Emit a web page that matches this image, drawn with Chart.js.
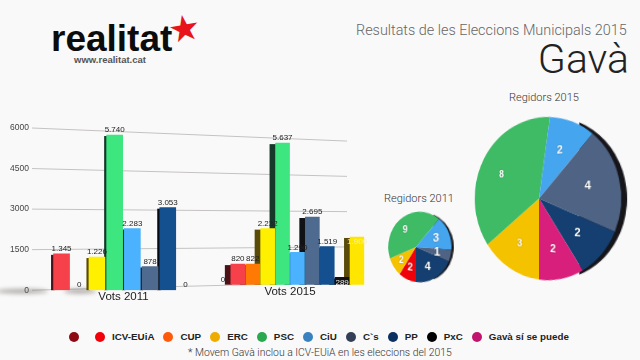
<!DOCTYPE html>
<html>
<head>
<meta charset="utf-8">
<style>
  html, body { margin: 0; padding: 0; background: #faf9f9; }
  #page { position: relative; width: 640px; height: 360px; overflow: hidden; font-family: "Liberation Sans", sans-serif; color: #222; }
  #page div, #page canvas { position: absolute; }
  .logo { left: 51px; top: 18px; font-size: 37px; font-weight: bold; color: #0c0c0c; }
  .star { left: 168px; top: 8px; font: 36px "DejaVu Sans"; color: #e8141c; transform: rotate(-10deg); }
  .web { left: 74px; top: 54px; font-size: 9.5px; font-weight: bold; color: #555; }
  .title { left: 356px; top: 22px; font: 300 14.4px Roboto; color: #666; white-space: nowrap; }
  .place { right: 11px; top: 35px; font: 300 41px Roboto; color: #222; }
  .pieTitle { font: 300 11px Roboto; color: #333; white-space: nowrap; }
  .note { left: 188px; top: 346px; font: 300 10.4px Roboto; color: #333; white-space: nowrap; }
  #legend { left: 69px; top: 331px; display: flex; align-items: center; font-size: 9.8px; font-weight: bold; color: #222; white-space: nowrap; }
  #legend span { display: inline-block; }
  #legend .dot { width: 10px; height: 10px; border-radius: 50%; margin-right: 7px; }
  #legend .txt { margin-right: 9px; }
  .pieBox { transform-origin: 50% 50%; }
</style>
</head>
<body>
<div id="page">
  <div class="logo">realitat</div>
  <div class="star">★</div>
  <div class="web">www.realitat.cat</div>
  <div class="title">Resultats de les Eleccions Municipals 2015</div>
  <div class="place">Gavà</div>

  <canvas id="vots2011" style="left:0;top:100px"></canvas>
  <canvas id="vots2015" style="left:190px;top:100px"></canvas>

  <div class="pieTitle" style="left:384px;top:192px">Regidors 2011</div>
  <div class="pieTitle" style="left:509px;top:91px">Regidors 2015</div>
  <div class="pieBox" style="left:371px;top:202px;width:90px;height:90px;transform:perspective(130px) rotateY(-27deg)"><canvas id="reg2011"></canvas></div>
  <div class="pieBox" style="left:444px;top:106px;width:190px;height:185px;transform:perspective(300px) rotateY(-27deg)"><canvas id="reg2015"></canvas></div>

  <div id="legend"></div>
  <div class="note">* Movem Gavà inclou a ICV-EUiA en les eleccions del 2015</div>
</div>

<script src="https://cdn.jsdelivr.net/npm/chart.js@4"></script>
<script>
const parties = ['', 'ICV-EUiA', 'CUP', 'ERC', 'PSC', 'CiU', 'C`s', 'PP', 'PxC', 'Gavà sí se puede']
const legendColors = ['#8b0a14', '#f00008', '#ff5a0a', '#eeac00', '#2aa84f', '#3a82bf', '#333f55', '#0b2f5e', '#000000', '#c0146f']
const barColors = ['#8b0a14', '#f6404a', '#ff7a05', '#fff000', '#3de67f', '#4ab2ff', '#4f6a8f', '#14508f', '#111111', '#ffe600']
const sideColors = ['#220406', '#4a1216', '#40200a', '#5a4a08', '#16382a', '#123048', '#111216', '#050a12', '#000000', '#5a4a08']
const pieColors = ['#8b0a14', '#f00008', '#ff5a0a', '#f5c200', '#3fbb66', '#46a5ef', '#4f6384', '#143f70', '#000000', '#d81f7c']

const vots2011 = [null, 1345, 0, 1226, 5740, 2283, 878, 3053, 0, null]
const vots2015 = [0, 820, 822, 2232, 5637, 1290, 2695, 1519, 289, 1900]
const regidors2011 = [0, 2, 0, 2, 9, 3, 1, 4, 0, 0]
const regidors2015 = [0, 0, 0, 3, 8, 2, 4, 2, 0, 2]
// order the slices run clockwise from the bottom of each pie
const order2011 = [1, 3, 4, 5, 6, 7]
const order2015 = [3, 4, 5, 6, 7, 9]
const yTicks = [0, 1500, 3000, 4500, 6000]

const insideLabels = ['PxC', 'Gavà sí se puede']

// legend
const legend = document.getElementById('legend')
parties.forEach((name, i) => {
  legend.insertAdjacentHTML('beforeend',
    '<span class="dot" style="background:' + legendColors[i] + '"></span><span class="txt">' + name + '</span>')
})

function fmt(v) {
  return String(v).replace(/\B(?=(\d{3})+$)/g, '.')
}

// sloped grid lines, they fan in towards the right like in the 3D picture
const gridPlugin = {
  id: 'slopedGrid',
  beforeDatasetsDraw(chart) {
    const ctx = chart.ctx
    const y = chart.scales.y
    const base = y.getPixelForValue(0)
    ctx.save()
    ctx.strokeStyle = '#c4c2c2'
    ctx.lineWidth = 1
    yTicks.forEach(v => {
      const y0 = y.getPixelForValue(v)
      ctx.beginPath()
      ctx.moveTo(32, y0)
      ctx.lineTo(347, base - 8 + (y0 - base) * 0.87)
      ctx.stroke()
    })
    // grey smear on the floor
    ctx.filter = 'blur(2px)'
    ctx.fillStyle = 'rgba(90,85,80,0.45)'
    ctx.beginPath()
    ctx.ellipse(22, base + 1, 26, 2.5, 0, 0, Math.PI * 2)
    ctx.ellipse(80, base + 1, 16, 2.5, 0, 0, Math.PI * 2)
    ctx.fill()
    ctx.restore()
  }
}

// dark side of each bar, drawn first so the fronts cover it
const sidePlugin = {
  id: 'barSide',
  beforeDatasetsDraw(chart, args, opts) {
    const ctx = chart.ctx
    const meta = chart.getDatasetMeta(0)
    ctx.save()
    meta.data.forEach((bar, i) => {
      const v = chart.data.datasets[0].data[i]
      if (!v) return
      const left = bar.x - bar.width / 2
      ctx.fillStyle = sideColors[i]
      ctx.fillRect(left - opts.width, bar.y + 1, opts.width + 1, bar.base - bar.y - 1)
    })
    ctx.restore()
  }
}

const valuePlugin = {
  id: 'barValues',
  afterDatasetsDraw(chart, args, opts) {
    const ctx = chart.ctx
    const meta = chart.getDatasetMeta(0)
    ctx.save()
    ctx.font = '8px "Liberation Sans"'
    ctx.textAlign = 'center'
    ctx.textBaseline = 'middle'
    meta.data.forEach((bar, i) => {
      const v = chart.data.datasets[0].data[i]
      if (v === null) return
      const inside = opts.inside && insideLabels.includes(parties[i])
      ctx.fillStyle = inside ? (v > 1000 ? '#f4efc0' : '#eee') : '#222'
      ctx.fillText(fmt(v), bar.x, inside ? bar.y + 5 : bar.y - 5)
    })
    ctx.restore()
  }
}

const pieLabelPlugin = {
  id: 'pieLabels',
  afterDatasetsDraw(chart, args, opts) {
    const ctx = chart.ctx
    const meta = chart.getDatasetMeta(0)
    ctx.save()
    ctx.font = 'bold ' + opts.size + 'px "Liberation Sans"'
    ctx.fillStyle = '#fff'
    ctx.textAlign = 'center'
    ctx.textBaseline = 'middle'
    ctx.shadowColor = 'rgba(0,0,0,0.4)'
    ctx.shadowBlur = 1.5
    meta.data.forEach((arc, i) => {
      const p = arc.getCenterPoint()
      ctx.fillText(chart.data.datasets[0].data[i], arc.x + (p.x - arc.x) * 1.28, arc.y + (p.y - arc.y) * 1.28)
    })
    ctx.restore()
  }
}

// black rim on the right of the pie
const rimPlugin = {
  id: 'pieRim',
  beforeDatasetsDraw(chart, args, opts) {
    const arc = chart.getDatasetMeta(0).data[0]
    const ctx = chart.ctx
    ctx.save()
    ctx.fillStyle = '#15151a'
    ctx.beginPath()
    ctx.arc(arc.x + opts.offset, arc.y, arc.outerRadius - 1, -1.1, 1.1)
    ctx.closePath()
    ctx.fill()
    ctx.restore()
  }
}

function barChart(id, values, w, padLeft, padRight, padTop, padBottom, axisWidth, side, label, inside, thickness) {
  const canvas = document.getElementById(id)
  canvas.width = w
  canvas.height = 215
  canvas.style.width = w + 'px'
  canvas.style.height = '215px'
  const showAxis = axisWidth > 0
  return new Chart(canvas, {
    type: 'bar',
    data: {
      labels: parties,
      datasets: [{
        data: values,
        backgroundColor: c => c.raw ? barColors[c.dataIndex] : 'transparent',
        barThickness: thickness,
        borderSkipped: false
      }]
    },
    options: {
      responsive: false,
      animation: false,
      layout: { padding: { left: padLeft, right: padRight, top: padTop, bottom: padBottom } },
      plugins: {
        legend: { display: false },
        tooltip: { enabled: false },
        barSide: side,
        barValues: { inside: inside }
      },
      scales: {
        x: {
          grid: { display: false, drawTicks: false },
          border: { display: false },
          ticks: { display: false },
          title: { display: true, text: label, padding: 0, color: '#222', font: { family: 'Liberation Sans', size: 11.5 } }
        },
        y: {
          display: showAxis,
          min: 0,
          max: 6000,
          afterFit(scale) { scale.width = axisWidth },
          grid: { display: false, drawTicks: false },
          border: { display: false },
          afterBuildTicks(scale) { scale.ticks = yTicks.map(v => ({ value: v })) },
          ticks: { color: '#444', padding: 6, font: { family: 'Liberation Sans', size: 8.5 }, callback: v => v }
        }
      }
    },
    plugins: (showAxis ? [gridPlugin] : []).concat([sidePlugin, valuePlugin])
  })
}

barChart('vots2011', vots2011, 380, 0, 168, 28, 11, 35, { width: 2.5 }, 'Vots 2011', false, 16)
barChart('vots2015', vots2015, 190, 25.5, 15.5, 34, 16.5, 0, { width: 6 }, 'Vots 2015', true, 14)

function pieChart(id, counts, order, w, h, pad, size, offset) {
  const canvas = document.getElementById(id)
  canvas.width = w
  canvas.height = h
  canvas.style.width = w + 'px'
  canvas.style.height = h + 'px'
  return new Chart(canvas, {
    type: 'pie',
    data: {
      labels: order.map(i => parties[i]),
      datasets: [{ data: order.map(i => counts[i]), backgroundColor: order.map(i => pieColors[i]), borderWidth: 0 }]
    },
    options: {
      responsive: false,
      animation: false,
      rotation: 180,
      layout: { padding: pad },
      plugins: {
        legend: { display: false },
        tooltip: { enabled: false },
        pieLabels: { size: size },
        pieRim: { offset: offset }
      }
    },
    plugins: [rimPlugin, pieLabelPlugin]
  })
}

pieChart('reg2011', regidors2011, order2011, 90, 90, 10, 11, 3)
pieChart('reg2015', regidors2015, order2015, 190, 185, 11.5, 11, 6)
</script>
</body>
</html>
